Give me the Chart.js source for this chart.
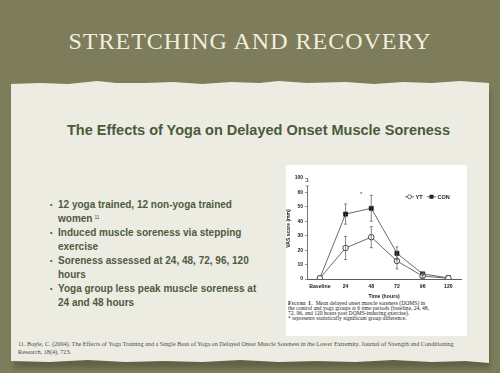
<!DOCTYPE html>
<html><head><meta charset="utf-8">
<script src="https://cdn.jsdelivr.net/npm/chart.js@4"></script>
<style>
html,body{margin:0;padding:0;}
body{width:500px;height:373px;overflow:hidden;position:relative;background:#7d7c5b;font-family:"Liberation Sans",Arial,sans-serif;}
#title{position:absolute;left:0;width:500px;top:27px;text-align:center;font-family:"Liberation Serif","Times New Roman",serif;font-size:24px;letter-spacing:1px;color:#f2eedf;line-height:28px;}
#shadow{position:absolute;left:14px;top:90px;width:476px;height:278px;background:#4a4934;opacity:0.5;filter:blur(2px);}
#paper{position:absolute;left:11px;top:80px;width:478px;height:283px;background:#edece3;
 clip-path:polygon(0 4px,6% 3px,12% 4px,18% 1px,22% 3px,28% 3px,34% 2px,40% 4px,46% 2px,52% 3px,56% 1px,62% 3px,70% 2px,76% 4px,82% 2px,88% 3px,94% 1px,100% 3px,100% 100%,95% calc(100% - 2px),88% calc(100% - 1px),80% calc(100% - 3px),72% calc(100% - 1px),64% calc(100% - 2px),56% calc(100% - 1px),48% calc(100% - 3px),40% calc(100% - 1px),32% calc(100% - 2px),24% calc(100% - 1px),16% calc(100% - 3px),8% calc(100% - 1px),0 calc(100% - 2px));}
#subtitle{position:absolute;left:0;width:517px;top:120px;text-align:center;font-weight:bold;font-size:14.5px;color:#4b5a3b;line-height:20px;}
#bullets{position:absolute;left:50px;top:198px;font-weight:bold;font-size:10px;line-height:14px;color:#4e5b3f;}
#bullets div{position:relative;padding-left:8px;}
#bullets div:before{content:"•";position:absolute;left:0;top:0;font-size:7px;}
sup{font-size:5px;font-weight:normal;vertical-align:top;position:relative;top:-2px;margin-left:2px;}
#figbox{position:absolute;left:286px;top:165px;width:181px;height:171px;background:#ffffff;}
#cwrap{position:absolute;left:286px;top:165px;width:180px;height:135px;}
#caption{position:absolute;left:288px;top:301px;width:178px;font-family:"Liberation Serif",serif;font-size:5.6px;line-height:4.9px;color:#222;white-space:nowrap;}
#foot{position:absolute;left:18px;top:340px;width:460px;font-family:"Liberation Serif",serif;font-size:6.2px;line-height:8px;color:#4a4a44;white-space:nowrap;}
</style></head>
<body>
<div id="title">STRETCHING AND RECOVERY</div>
<div id="shadow"></div>
<div id="paper"></div>
<div id="subtitle">The Effects of Yoga on Delayed Onset Muscle Soreness</div>
<div id="bullets">
<div>12 yoga trained, 12 non-yoga trained<br>women<sup>11</sup></div>
<div>Induced muscle soreness via stepping<br>exercise</div>
<div>Soreness assessed at 24, 48, 72, 96, 120<br>hours</div>
<div>Yoga group less peak muscle soreness at<br>24 and 48 hours</div>
</div>
<div id="figbox"></div>
<div id="cwrap"><canvas id="c" width="180" height="135"></canvas></div>
<div id="caption"><b style="font-variant:small-caps;letter-spacing:0.3px">Figure 1.</b>&nbsp; Mean delayed onset muscle soreness (DOMS) in<br>the control and yoga groups at 6 time periods (baseline, 24, 48,<br>72, 96, and 120 hours post DOMS-inducing exercise).<br>* represents statistically significant group difference.</div>
<div id="foot">11. Boyle, C. (2004). The Effects of Yoga Training and a Single Bout of Yoga on Delayed Onset Muscle Soreness in the Lower Extremity. Journal of Strength and Conditioning<br>Research, 18(4), 723.</div>
<script>
const categories = ["Baseline","24","48","72","96","120"];
const ytValues  = [0.5, 21.5, 29, 12.5, 2, 0.5];
const ytErr     = [0, 8, 7.3, 5.5, 1, 0];
const conValues = [0.5, 45, 49, 17.8, 3.5, 0.8];
const conErr    = [0, 7, 9, 4.5, 1, 0];
const yTicks    = [0,10,20,30,40,50,60,70];
const yTickLabels = ["0","10","20","30","40","50","60","100"];
const sigIndex = 2, sigValue = 60;

const errPlugin = {
  id:'errbars',
  afterDatasetsDraw(chart){
    const ctx = chart.ctx, xs = chart.scales.x, ys = chart.scales.y;
    const errs = [ytErr, conErr];
    ctx.save();
    ctx.strokeStyle = '#555'; ctx.lineWidth = 0.7;
    chart.data.datasets.forEach((ds,di)=>{
      ds.data.forEach((v,i)=>{
        const e = errs[di][i]; if(!e) return;
        const x = xs.getPixelForValue(i);
        const y1 = ys.getPixelForValue(v+e), y2 = ys.getPixelForValue(v-e);
        ctx.beginPath();
        ctx.moveTo(x,y1); ctx.lineTo(x,y2);
        ctx.moveTo(x-1.5,y1); ctx.lineTo(x+1.5,y1);
        ctx.moveTo(x-1.5,y2); ctx.lineTo(x+1.5,y2);
        ctx.stroke();
      });
    });
    ctx.restore();
  },
  afterDraw(chart){
    const ctx = chart.ctx, xs = chart.scales.x, ys = chart.scales.y;
    ctx.save();
    const ax = chart.chartArea.left;
    const yb1 = ys.getPixelForValue(67.5), yb2 = ys.getPixelForValue(64.5);
    ctx.fillStyle = '#fff';
    ctx.fillRect(ax-1.5, yb1, 3, yb2-yb1);
    ctx.strokeStyle = '#666'; ctx.lineWidth = 0.6;
    ctx.beginPath();
    ctx.moveTo(ax-2, yb1); ctx.lineTo(ax+2, yb1);
    ctx.moveTo(ax-2, yb2); ctx.lineTo(ax+2, yb2);
    ctx.stroke();
    ctx.fillStyle = '#444';
    ctx.font = '6px "Liberation Sans", Arial';
    ctx.textAlign = 'center'; ctx.textBaseline = 'middle';
    const sx = xs.getPixelForValue(sigIndex) - 10;
    ctx.fillText('*', sx, ys.getPixelForValue(sigValue)+2);
    const ly = ys.getPixelForValue(57);
    let lx = chart.chartArea.left + 98;
    ctx.strokeStyle = '#333'; ctx.lineWidth = 0.7;
    ctx.beginPath(); ctx.moveTo(lx, ly); ctx.lineTo(lx+9, ly); ctx.stroke();
    ctx.beginPath(); ctx.arc(lx+4.5, ly, 2, 0, Math.PI*2); ctx.fillStyle='#fff'; ctx.fill(); ctx.stroke();
    ctx.fillStyle = '#222'; ctx.font = 'bold 5.5px "Liberation Sans", Arial';
    ctx.textAlign = 'left';
    ctx.fillText('YT', lx+10.5, ly+0.3);
    lx += 22;
    ctx.beginPath(); ctx.moveTo(lx, ly); ctx.lineTo(lx+9, ly); ctx.stroke();
    ctx.fillRect(lx+2.5, ly-2, 4, 4);
    ctx.fillText('CON', lx+10.5, ly+0.3);
    ctx.restore();
  }
};

new Chart(document.getElementById('c'), {
  type:'line',
  data:{
    labels: categories,
    datasets:[
      {label:'YT', data: ytValues, borderColor:'#444', borderWidth:0.8, pointStyle:'circle', pointRadius:2.8,
       pointBackgroundColor:'#fff', pointBorderColor:'#222', pointBorderWidth:0.8, tension:0},
      {label:'CON', data: conValues, borderColor:'#444', borderWidth:0.8, pointStyle:'rect', pointRadius:3,
       pointBackgroundColor:'#111', pointBorderColor:'#111', pointBorderWidth:0.5, tension:0}
    ]
  },
  options:{
    responsive:false, animation:false, devicePixelRatio:1,
    layout:{padding:{top:13,right:3,left:0,bottom:0}},
    plugins:{legend:{display:false}, tooltip:{enabled:false}},
    scales:{
      x:{type:'category', offset:true,
        grid:{display:true, drawOnChartArea:false, drawTicks:false},
        border:{display:true, color:'#333', width:0.8},
        ticks:{font:{size:5.2, weight:'bold', family:'"Liberation Sans", Arial'}, color:'#222', padding:4, maxRotation:0},
        title:{display:true, text:'Time (hours)', font:{size:5.2, weight:'bold', family:'"Liberation Sans", Arial'}, color:'#222', padding:{top:0,bottom:0}},
        afterFit(s){ s.height = 21; }
      },
      y:{type:'linear', min:0, max:70,
        afterBuildTicks(s){ s.ticks = yTicks.map(v=>({value:v})); },
        grid:{display:true, drawOnChartArea:false, drawTicks:true, tickLength:2, color:'#555', lineWidth:0.6},
        border:{display:true, color:'#555', width:0.8},
        ticks:{font:{size:5, weight:'bold', family:'"Liberation Sans", Arial'}, color:'#222', padding:2,
          callback:(v)=> yTickLabels[yTicks.indexOf(v)]},
        title:{display:true, text:'VAS score (mm)', font:{size:5, weight:'bold', family:'"Liberation Sans", Arial'}, color:'#222', padding:{top:0,bottom:1}},
        afterFit(s){ s.width = 21; }
      }
    }
  },
  plugins:[errPlugin]
});
</script>
</body></html>
